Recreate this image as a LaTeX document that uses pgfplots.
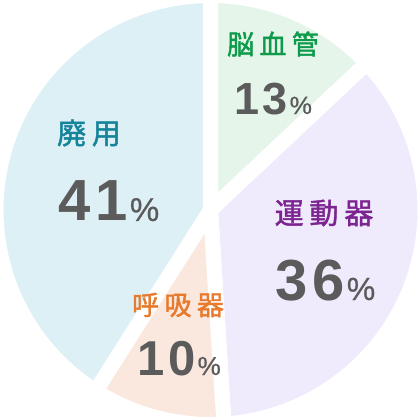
\documentclass[border=0pt]{standalone}
\usepackage{pgfplots}
\pgfplotsset{compat=1.18}
\usepackage{fontspec}
\newfontfamily\cjk[LetterSpace=20, FakeBold=1.6]{Noto Sans CJK JP}
\newfontfamily\numfont[LetterSpace=8]{Liberation Sans}
\newfontfamily\pctfont[FakeBold=0.6]{Liberation Sans}

\definecolor{fillA}{HTML}{E5F5EA}
\definecolor{fillB}{HTML}{F0EAFD}
\definecolor{fillC}{HTML}{FAE8DE}
\definecolor{fillD}{HTML}{DDF0F6}
\definecolor{txtA}{HTML}{0D9A4A}
\definecolor{txtB}{HTML}{7C2590}
\definecolor{txtC}{HTML}{E87A2E}
\definecolor{txtD}{HTML}{15849A}
\definecolor{numgray}{HTML}{5B5B5B}

% slice from cumulative share #1 to #2 (percent), clockwise from 12 o'clock
\newcommand{\pieslice}[3]{%
  \addplot[fill=#3, draw=white, line width=15bp, line join=round,
    domain={90-3.6*#2}:{90-3.6*#1}, samples=120, variable=\t,
    data cs=polar] ({t},{214.5}) -- (axis cs:0,0) -- cycle;
}
\newcommand{\pct}[3]{% digits, digit size, percent size
  {\fontsize{#2bp}{#2bp}\selectfont\numfont\bfseries #1}\kern2bp{\fontsize{#3bp}{#3bp}\selectfont\pctfont\%}}

\begin{document}
\begin{tikzpicture}
\begin{axis}[
    hide axis,
    scale only axis,
    width=420bp, height=420bp,
    xmin=-210.5, xmax=209.5,
    ymin=-210, ymax=210,
    ]
% shares: 脳血管 13, 運動器 36, 呼吸器 10, 廃用 41
\pieslice{0}{13}{fillA}
\pieslice{13}{49}{fillB}
\pieslice{49}{59}{fillC}
\pieslice{59}{100}{fillD}

\node[txtA] at (axis cs:62.5,166) {\fontsize{27bp}{27bp}\selectfont\cjk 脳血管};
\node[numgray, anchor=base] at (axis cs:62.5,96) {\pct{13}{45}{25}};
\node[txtB] at (axis cs:113.5,-3) {\fontsize{29bp}{29bp}\selectfont\cjk 運動器};
\node[numgray, anchor=base] at (axis cs:115,-90) {\pct{36}{58}{32}};
\node[txtC] at (axis cs:-32.5,-95) {\fontsize{27bp}{27bp}\selectfont\cjk 呼吸器};
\node[numgray, anchor=base] at (axis cs:-31.5,-165) {\pct{10}{49}{26}};
\node[txtD] at (axis cs:-121.5,77) {\fontsize{29bp}{29bp}\selectfont\cjk 廃用};
\node[numgray, anchor=base] at (axis cs:-101.5,-11) {\pct{41}{58}{33}};
\end{axis}
\pgfresetboundingbox
\path (current axis.south west) rectangle (current axis.north east);
\end{tikzpicture}
\end{document}
